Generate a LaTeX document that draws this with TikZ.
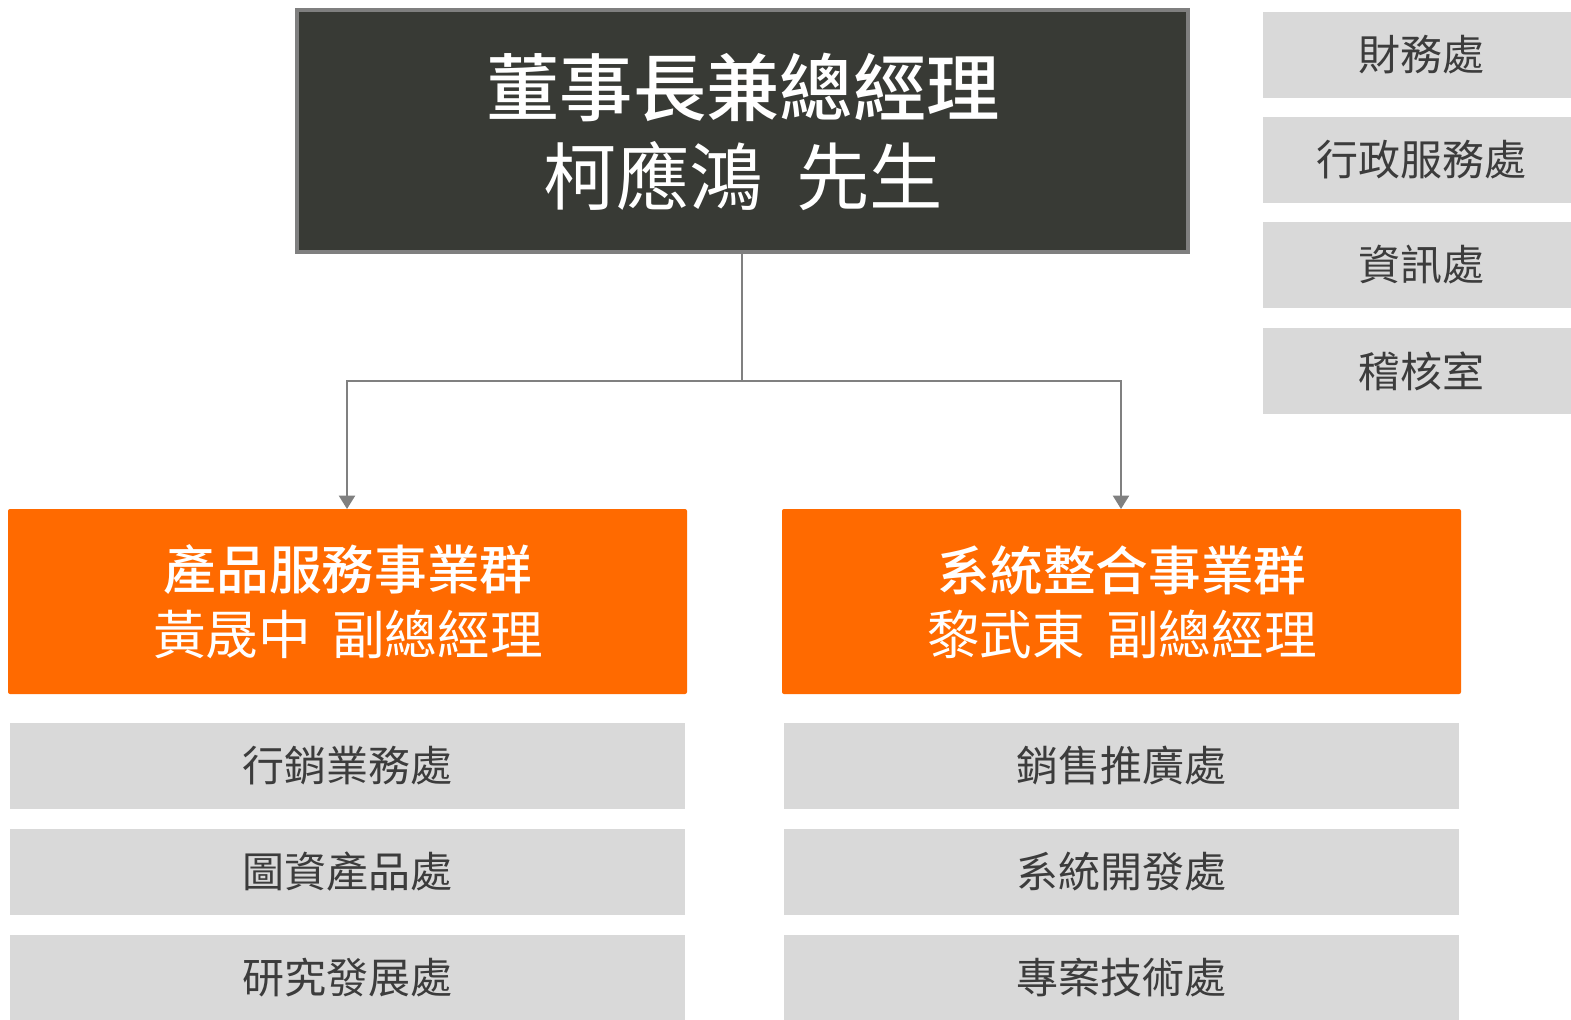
\documentclass[tikz,border=0pt]{standalone}
\usepackage{fontspec}
\newfontfamily\cjk{Noto Sans CJK TC}
\newfontfamily\cjkmed{Noto Sans CJK TC Medium}
\usetikzlibrary{arrows.meta}
\definecolor{topfill}{HTML}{383A35}
\definecolor{topline}{HTML}{7F7F7F}
\definecolor{orangefill}{HTML}{FF6A00}
\definecolor{grayfill}{HTML}{D9D9D9}
\definecolor{graytext}{HTML}{3C3C3C}
\definecolor{linkcol}{HTML}{808080}
\tikzset{
  topbox/.style={draw=topline, line width=2.5pt, fill=topfill},
  orangebox/.style={fill=orangefill, rounded corners=1.5pt},
  graybox/.style={fill=grayfill},
  whitebig/.style={text=white, font=\cjk\fontsize{55pt}{55pt}\selectfont, inner sep=0pt},
  whitebigb/.style={text=white, font=\cjkmed\fontsize{55pt}{55pt}\selectfont, inner sep=0pt},
  whitemid/.style={text=white, font=\cjk\fontsize{39.5pt}{39.5pt}\selectfont, inner sep=0pt},
  whitemidb/.style={text=white, font=\cjkmed\fontsize{39.5pt}{39.5pt}\selectfont, inner sep=0pt},
  graylabel/.style={text=graytext, font=\cjk\fontsize{31.5pt}{31.5pt}\selectfont, inner sep=0pt},
  link/.style={draw=linkcol, line width=1.5pt},
  arrowlink/.style={link, -{Triangle[width=12pt,length=10pt]}},
}
\begin{document}
\begin{tikzpicture}[x=0.75pt, y=-0.75pt]
\useasboundingbox (0,0) rectangle (1571,1020);
\fill[white] (0,0) rectangle (1571,1020);

% top box
\draw[topbox] (297,10) rectangle (1188,252);
\node[whitebigb] (t1) at (743,87) {董事長兼總經理};
\node[whitebig] (t2) at (743,176) {柯應鴻\hspace{0.45em}先生};
\coordinate (topb) at (742,253);

% right staff boxes
\fill[graybox] (1263,12) rectangle (1571,98);
\node[graylabel] (s1) at (1421,55) {財務處};
\fill[graybox] (1263,117) rectangle (1571,203);
\node[graylabel] (s2) at (1421,160) {行政服務處};
\fill[graybox] (1263,222) rectangle (1571,308);
\node[graylabel] (s3) at (1421,265) {資訊處};
\fill[graybox] (1263,328) rectangle (1571,414);
\node[graylabel] (s4) at (1421,371) {稽核室};

% orange boxes
\fill[orangebox] (8,509) rectangle (687,694);
\coordinate (lt) at (347,509);
\node[whitemidb] (l1) at (348,570) {產品服務事業群};
\node[whitemid] (l2) at (348,634) {黃晟中\hspace{0.4em}副總經理};

\fill[orangebox] (782,509) rectangle (1461,694);
\coordinate (rt) at (1121,509);
\node[whitemidb] (r1) at (1122,570) {系統整合事業群};
\node[whitemid] (r2) at (1122,634) {黎武東\hspace{0.4em}副總經理};

% connectors
\coordinate (mid) at (742,381);
\draw[link] (topb) -- (mid);
\draw[arrowlink] (mid) -| (lt);
\draw[arrowlink] (mid) -| (rt);

% left dept boxes
\fill[graybox] (10,723) rectangle (685,809);
\node[graylabel] (ld1) at (347,766) {行銷業務處};
\fill[graybox] (10,829) rectangle (685,915);
\node[graylabel] (ld2) at (347,872) {圖資產品處};
\fill[graybox] (10,935) rectangle (685,1021);
\node[graylabel] (ld3) at (347,978) {研究發展處};

% right dept boxes
\fill[graybox] (784,723) rectangle (1459,809);
\node[graylabel] (rd1) at (1121,766) {銷售推廣處};
\fill[graybox] (784,829) rectangle (1459,915);
\node[graylabel] (rd2) at (1121,872) {系統開發處};
\fill[graybox] (784,935) rectangle (1459,1021);
\node[graylabel] (rd3) at (1121,978) {專案技術處};
\end{tikzpicture}
\end{document}
